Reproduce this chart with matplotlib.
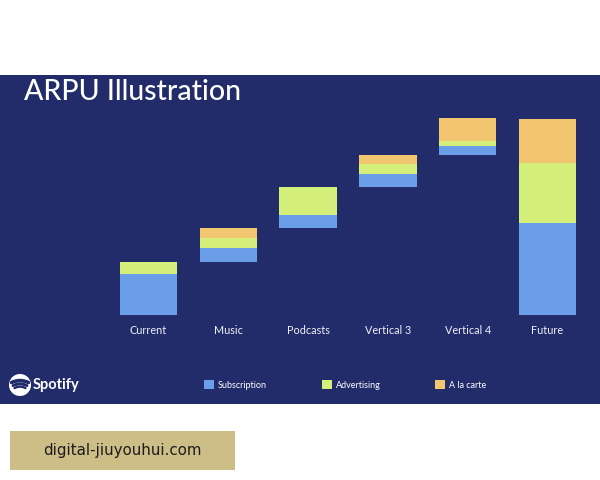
import matplotlib
matplotlib.use("Agg")
import matplotlib.pyplot as plt
import numpy as np
from matplotlib.patches import Rectangle, Circle, Arc, Patch

# ---- data ----
categories = ["Current", "Music", "Podcasts", "Vertical 3", "Vertical 4", "Future"]
subscription = [4.1, 1.4, 1.3, 1.3, 0.9, 9.2]
advertising = [1.2, 1.0, 2.8, 1.0, 0.5, 6.0]
a_la_carte = [0.0, 1.0, 0.0, 0.9, 2.3, 4.4]
series_names = ["Subscription", "Advertising", "A la carte"]
title_text = "ARPU Illustration"
brand_text = "Spotify"
watermark_text = "digital-jiuyouhui.com"

NAVY = "#222c6b"
COLORS = ["#6a9ee8", "#d5f07a", "#f2c570"]
W, H = 600, 480

fig = plt.figure(figsize=(6, 4.8), dpi=100, facecolor="white")

def fx(px):
    return px / W

def fy(py):
    return (H - py) / H

# navy panel
fig.patches.append(Rectangle((0, fy(404)), 1, fy(75) - fy(404), transform=fig.transFigure,
                             facecolor=NAVY, edgecolor="none", zorder=-10))

# watermark box
fig.patches.append(Rectangle((fx(10), fy(470)), fx(235) - fx(10), fy(431) - fy(470),
                             transform=fig.transFigure, facecolor="#cdbd86",
                             edgecolor="none", zorder=-10))
fig.text(fx(122.5), fy(451), watermark_text, ha="center", va="center",
         fontsize=10.8, color="#1c1c1c", family="DejaVu Sans")

# title
fig.text(fx(24), fy(92.5), title_text, ha="left", va="center", fontsize=20.5,
         color="white", family="Lato", fontweight="medium")

# main axes
left = 148.5 - 39.9
right = 547.5 + 39.9
ax = fig.add_axes([fx(left), fy(315), fx(right - left), 200 / H])
ax.set_facecolor("none")
ax.patch.set_alpha(0)

x = np.arange(len(categories))
sub = np.array(subscription)
adv = np.array(advertising)
alc = np.array(a_la_carte)
totals = sub + adv + alc
# waterfall bases: each step starts where the previous ends; last bar is the total
bases = np.concatenate([[0], np.cumsum(totals[:-2])])
bases = np.append(bases, 0.0)

bw = 0.72
ax.bar(x, sub, bw, bottom=bases, color=COLORS[0], linewidth=0)
ax.bar(x, adv, bw, bottom=bases + sub, color=COLORS[1], linewidth=0)
ax.bar(x, alc, bw, bottom=bases + sub + adv, color=COLORS[2], linewidth=0)

ax.set_xlim(-0.5, len(categories) - 0.5)
ax.set_ylim(0, 20)
for s in ax.spines.values():
    s.set_visible(False)
ax.set_yticks([])
ax.set_xticks(x)
ax.set_xticklabels(categories, fontsize=7.8, color="#eef0f6", family="Lato")
ax.tick_params(axis="x", length=0, pad=7.5)

# legend
handles = [Patch(facecolor=c, edgecolor="none") for c in COLORS]
fs = 6.5
fig.legend(handles, series_names, loc="center left",
           bbox_to_anchor=(fx(204), fy(385)), ncol=3, frameon=False,
           labelcolor="white", prop={"family": "Lato", "size": fs},
           handlelength=1.1, handleheight=1.1, handletextpad=0.45,
           columnspacing=6.05, borderpad=0, borderaxespad=0)

# Spotify logo
lax = fig.add_axes([fx(9), fy(396), fx(22), 22 / H])
lax.set_xlim(-1, 1)
lax.set_ylim(-1, 1)
lax.set_aspect("equal")
lax.axis("off")
lax.add_patch(Circle((0, 0), 1, facecolor="white", edgecolor="none"))
for cy, r, lw, th in [(-1.35, 1.75, 2.6, 26), (-1.25, 1.35, 2.1, 28), (-1.15, 1.0, 1.7, 30)]:
    lax.add_patch(Arc((0, cy), 2 * r, 2 * r, theta1=90 - th, theta2=90 + th,
                      color=NAVY, lw=lw, capstyle="round"))
fig.text(fx(33), fy(385), brand_text, ha="left", va="center", fontsize=10.5,
         color="white", fontweight="bold", family="Lato")

fig.savefig("out.png", dpi=100, facecolor="white")
